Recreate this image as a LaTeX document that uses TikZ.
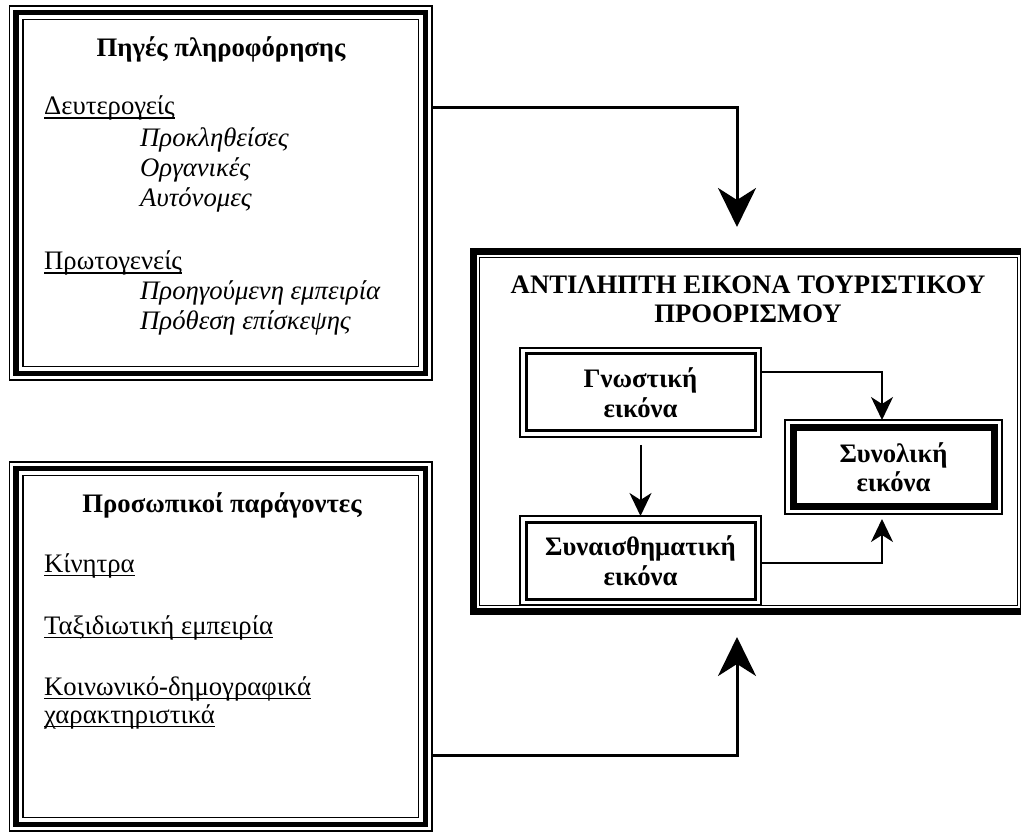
\documentclass[tikz,border=0pt]{standalone}
\usepackage{fontspec}
\setmainfont{Liberation Serif}
\usetikzlibrary{arrows.meta}

\newcommand{\bodysize}{\fontsize{26.7}{29.5}\selectfont}
% underlined text, line close to the baseline
\newsavebox{\ulbox}
\newcommand{\uline}[1]{\sbox{\ulbox}{#1}\rlap{\rule[-4pt]{\wd\ulbox}{1.5pt}}\usebox{\ulbox}}
% thick and thin frame inside a box node
\newcommand{\tripleframe}[1]{%
	\draw [line width = 5.5pt] ([shift={(6.5pt,-6.5pt)}]#1.north west) rectangle ([shift={(-6.5pt,6.5pt)}]#1.south east);
	\draw [line width = 1.5pt] ([shift={(13.5pt,-13.5pt)}]#1.north west) rectangle ([shift={(-13.5pt,13.5pt)}]#1.south east);}
% one frame inside a box node: node, inset, width
\newcommand{\innerframe}[3]{%
	\draw [line width = #3] ([shift={(#2,-#2)}]#1.north west) rectangle ([shift={(-#2,#2)}]#1.south east);}

\begin{document}
\begin{tikzpicture} [x = 1pt, y = -1pt, font = \bodysize,
		box/.style = {draw, line width = 1.5pt, inner sep = 0pt, outer sep = 0pt},
		inbox/.style = {box, fill = white, align = center, font = \bodysize\bfseries},
		title/.style = {inner sep = 0pt, anchor = base, font = \bodysize\bfseries},
		entry/.style = {inner sep = 0pt, anchor = base west},
		item/.style = {entry, font = \bodysize\itshape},
		bigarrow/.style = {line width = 3pt, -{Stealth[length = 39pt, width = 38pt, inset = 12pt]}},
		smallarrow/.style = {line width = 2pt, -{Stealth[length = 23pt, width = 22pt, inset = 7pt]}}]
	% Page frame
	\useasboundingbox (0,0) rectangle (1021,834);

	% Left boxes
	\node (src) [box, minimum width = 422.5pt, minimum height = 374pt] at (220.75,193) {};
	\tripleframe{src}
	\node (pf) [box, minimum width = 422.5pt, minimum height = 369pt] at (220.75,646.5) {};
	\tripleframe{pf}

	% Sources of information
	\node (srcT) [title] at (221,57) {Πηγές πληροφόρησης};
	\node (sec) [entry] at (44,115) {\uline{Δευτερογείς}};
	\node (sec1) [item] at (140,147) {Προκληθείσες};
	\node (sec2) [item] at (140,177) {Οργανικές};
	\node (sec3) [item] at (140,207) {Αυτόνομες};
	\node (prim) [entry] at (44,270) {\uline{Πρωτογενείς}};
	\node (prim1) [item] at (140,300) {Προηγούμενη εμπειρία};
	\node (prim2) [item] at (140,330) {Πρόθεση επίσκεψης};

	% Personal factors
	\node (pfT) [title] at (222,512) {Προσωπικοί παράγοντες};
	\node (pf1) [entry] at (44,572) {\uline{Κίνητρα}};
	\node (pf2) [entry] at (44,634) {\uline{Ταξιδιωτική εμπειρία}};
	\node (pf3) [entry] at (44,695) {\uline{Κοινωνικό-δημογραφικά}};
	\node (pf4) [entry] at (44,723) {\uline{χαρακτηριστικά}};

	% Destination image
	\node (img) [box, line width = 7pt, minimum width = 550pt, minimum height = 360pt] at (748.5,431.5) {};
	\innerframe{img}{6pt}{1.5pt}
	\node (imgT) [title, anchor = north, align = center] at (748,275.5) {ΑΝΤΙΛΗΠΤΗ ΕΙΚΟΝΑ ΤΟΥΡΙΣΤΙΚΟΥ\\ΠΡΟΟΡΙΣΜΟΥ};

	\node (gnw) [inbox, minimum width = 241pt, minimum height = 89pt] at (640.5,392.5) {Γνωστική\\εικόνα};
	\innerframe{gnw}{6pt}{3pt}
	\node (sen) [inbox, minimum width = 241pt, minimum height = 89pt] at (640.5,560.5) {Συναισθηματική\\εικόνα};
	\innerframe{sen}{6pt}{3pt}
	\node (syn) [inbox, minimum width = 217pt, minimum height = 94pt] at (893.5,467) {Συνολική\\εικόνα};
	\innerframe{syn}{8pt}{7pt}

	% Arrows
	\coordinate (inTop) at (737,227);
	\coordinate (inBot) at (737,637);
	\draw [bigarrow] ([yshift = 85pt]src.east) -| (inTop);
	\draw [bigarrow] ([yshift = -108.5pt]pf.east) -| (inBot);

	\draw [smallarrow] ([yshift = 20.5pt]gnw.east) -| ([xshift = -11.5pt]syn.north);
	\draw [smallarrow] ([yshift = -8pt]gnw.south) -- (sen.north);
	\draw [smallarrow] ([yshift = -2.5pt]sen.east) -| ([xshift = -11.5pt, yshift = -5pt]syn.south);
\end{tikzpicture}
\end{document}
